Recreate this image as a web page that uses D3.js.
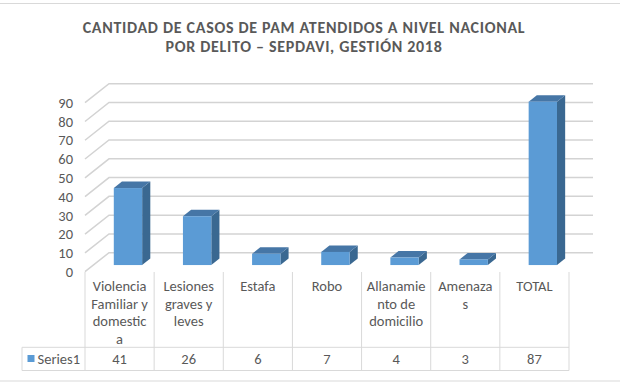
<!DOCTYPE html>
<html>
<head>
<meta charset="utf-8">
<script src="https://cdn.jsdelivr.net/npm/d3@7"></script>
<style>
  body { margin: 0; background: #fff; }
  text { font-family: Carlito, Calibri, Lato, sans-serif; fill: #595959; }
</style>
</head>
<body>
<div id="chart"></div>
<script>
// Data
var categories = ["Violencia Familiar y domestica", "Lesiones graves y leves", "Estafa", "Robo",
  "Allanamiento de domicilio", "Amenazas", "TOTAL"];
// label lines as they wrap in the table
var categoryLines = [
  ["Violencia", "Familiar y", "domestic", "a"],
  ["Lesiones", "graves y", "leves"],
  ["Estafa"],
  ["Robo"],
  ["Allanamie", "nto de", "domicilio"],
  ["Amenaza", "s"],
  ["TOTAL"]
];
var values = [41, 26, 6, 7, 4, 3, 87];
var yTicks = [0, 10, 20, 30, 40, 50, 60, 70, 80, 90];
var seriesName = "Series1";
var titleLines = ["CANTIDAD DE CASOS DE PAM ATENDIDOS A NIVEL NACIONAL",
  "POR DELITO \u2013 SEPDAVI, GESTIÓN 2018"];

var svgWidth = 620;
var svgHeight = 386;

// 3D depth offset (back wall relative to front edge)
var depthX = 24;
var depthY = -19;
var barFront = 0.35;
var barBack = 0.69;

var svg = d3.select("#chart")
  .append("svg")
  .attr("width", svgWidth)
  .attr("height", svgHeight);

// chart border
svg.append("rect")
  .attr("x", -1).attr("y", 3.5)
  .attr("width", svgWidth + 2).attr("height", 377.5)
  .attr("fill", "none")
  .attr("stroke", "#d9d9d9");

// Title
svg.selectAll(".title")
  .data(titleLines)
  .enter()
  .append("text")
  .attr("class", "title")
  .attr("x", 304)
  .attr("y", (d, i) => 32.5 + i * 19.3)
  .attr("text-anchor", "middle")
  .attr("font-size", "16px")
  .attr("letter-spacing", "0.7px")
  .attr("font-weight", "bold")
  .text(d => d);

var x = d3.scaleBand()
  .domain(categories)
  .range([85, 569]);

var y = d3.scaleLinear()
  .domain([0, 90])
  .range([271.7, 102.7]);

function px(sx, d) { return sx + depthX * d; }
function py(sy, d) { return sy + depthY * d; }

// Gridlines (diagonal on left side wall edge + back wall)
var grid = svg.append("g");
grid.selectAll("path")
  .data(yTicks)
  .enter()
  .append("path")
  .attr("d", t => `M${x.range()[0]},${y(t)} L${px(x.range()[0], 1)},${py(y(t), 1)} L${px(x.range()[1], 1)},${py(y(t), 1)}`)
  .attr("fill", "none")
  .attr("stroke", "#d3d3d3")
  .attr("stroke-width", 1.5);

// Y axis labels
var leftAxis = d3.axisLeft(y).tickValues(yTicks).tickSize(0).tickPadding(0);
var yAxisG = svg.append("g")
  .attr("transform", "translate(73,0)")
  .call(leftAxis);
yAxisG.select(".domain").remove();
yAxisG.selectAll("text")
  .attr("font-size", "14.5px")
  .attr("font-family", null)
  .attr("fill", "#595959");

// Bars
var barW = x.bandwidth() * 0.41;
var bars = svg.append("g").selectAll("g")
  .data(values)
  .enter()
  .append("g");

function barX0(d, i) { return x(categories[i]) + x.bandwidth() / 2 - barW / 2; }

// side
bars.append("path")
  .attr("d", function(d, i) {
    var x1 = barX0(d, i) + barW;
    return `M${px(x1, barFront)},${py(y(d), barFront)} L${px(x1, barBack)},${py(y(d), barBack)}` +
      ` L${px(x1, barBack)},${py(y(0), barBack)} L${px(x1, barFront)},${py(y(0), barFront)} Z`;
  })
  .attr("fill", "#3a6891");

// top
bars.append("path")
  .attr("d", function(d, i) {
    var x0 = barX0(d, i), x1 = x0 + barW;
    return `M${px(x0, barFront)},${py(y(d), barFront)} L${px(x1, barFront)},${py(y(d), barFront)}` +
      ` L${px(x1, barBack)},${py(y(d), barBack)} L${px(x0, barBack)},${py(y(d), barBack)} Z`;
  })
  .attr("fill", "#4676a6");

// front
bars.append("rect")
  .attr("x", (d, i) => px(barX0(d, i), barFront))
  .attr("y", d => py(y(d), barFront))
  .attr("width", barW)
  .attr("height", d => y(0) - y(d))
  .attr("fill", "#5b9bd5");

// Data table
var tableTop = 272;
var rowSplit = 347.3;
var tableBottom = 370.5;
var table = svg.append("g");
var lineColor = "#d9d9d9";

// vertical column borders
var borders = categories.map(c => x(c)).concat([x.range()[1]]);
table.selectAll(".vline")
  .data(borders)
  .enter()
  .append("line")
  .attr("x1", d => d).attr("x2", d => d)
  .attr("y1", tableTop).attr("y2", tableBottom)
  .attr("stroke", lineColor);

// horizontal row lines
table.append("line")
  .attr("x1", 22).attr("x2", x.range()[1])
  .attr("y1", rowSplit).attr("y2", rowSplit)
  .attr("stroke", lineColor);
table.append("line")
  .attr("x1", 22).attr("x2", x.range()[1])
  .attr("y1", tableBottom).attr("y2", tableBottom)
  .attr("stroke", lineColor);
table.append("line")
  .attr("x1", 22).attr("x2", 22)
  .attr("y1", rowSplit).attr("y2", tableBottom)
  .attr("stroke", lineColor);

// category labels
table.selectAll(".catLabel")
  .data(categoryLines)
  .enter()
  .append("text")
  .attr("class", "catLabel")
  .attr("text-anchor", "middle")
  .attr("font-size", "14.5px")
  .each(function(lines, i) {
    var t = d3.select(this);
    lines.forEach(function(l, j) {
      t.append("tspan")
        .attr("x", x(categories[i]) + x.bandwidth() / 2)
        .attr("y", 291 + j * 17.5)
        .text(l);
    });
  });

// values row
table.selectAll(".valLabel")
  .data(values)
  .enter()
  .append("text")
  .attr("class", "valLabel")
  .attr("x", (d, i) => x(categories[i]) + x.bandwidth() / 2)
  .attr("y", 363.5)
  .attr("text-anchor", "middle")
  .attr("font-size", "14.5px")
  .text(d => d);

// legend key
table.append("rect")
  .attr("x", 27.5).attr("y", 355)
  .attr("width", 7).attr("height", 7)
  .attr("fill", "#5b9bd5");
table.append("text")
  .attr("x", 37.5)
  .attr("y", 363.5)
  .attr("font-size", "14.5px")
  .text(seriesName);
</script>
</body>
</html>
